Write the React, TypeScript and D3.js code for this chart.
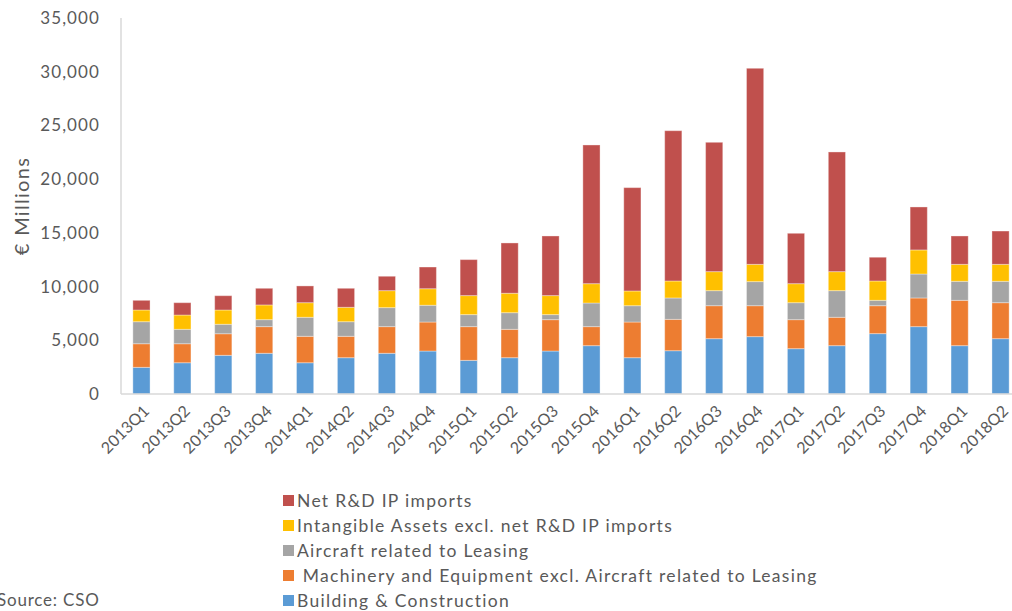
import React from "react";
import * as d3 from "d3";

const quarters = [
  "2013Q1","2013Q2","2013Q3","2013Q4","2014Q1","2014Q2","2014Q3","2014Q4",
  "2015Q1","2015Q2","2015Q3","2015Q4","2016Q1","2016Q2","2016Q3","2016Q4",
  "2017Q1","2017Q2","2017Q3","2017Q4","2018Q1","2018Q2",
];
const building = [2480,2910,3600,3790,2910,3380,3790,4000,3130,3380,4000,4500,3380,4030,5150,5340,4220,4500,5620,6270,4500,5150];
const machinery = [2200,1770,2010,2480,2460,1990,2480,2700,3140,2640,2920,1770,3320,2920,3070,2880,2700,2640,2600,2670,4220,3350];
const aircraft = [2050,1340,880,650,1770,1360,1770,1560,1120,1550,470,2200,1520,1990,1400,2240,1580,2480,500,2230,1770,1990];
const intangible = [1090,1330,1330,1370,1360,1340,1580,1540,1770,1810,1770,1800,1370,1580,1770,1610,1770,1770,1800,2240,1580,1580];
const netRD = [900,1150,1330,1550,1560,1770,1340,2020,3350,4680,5550,12910,9620,13990,12040,18250,4690,11140,2210,4000,2640,3100];
const yTicks = [0,5000,10000,15000,20000,25000,30000,35000];

const seriesKeys = ["building","machinery","aircraft","intangible","netRD"];
const seriesNames = [
  "Building & Construction",
  " Machinery and Equipment excl. Aircraft related to Leasing",
  "Aircraft related to Leasing",
  "Intangible Assets excl. net R&D IP imports",
  "Net R&D IP imports",
];
const colors = ["#5B9BD5","#ED7D31","#A5A5A5","#FFC000","#C0504D"];

export default function App() {
  const W = 1012, H = 611;
  const left = 121, right = 1021, top = 18, bottom = 394;
  const rows = quarters.map((q, i) => ({
    q,
    building: building[i],
    machinery: machinery[i],
    aircraft: aircraft[i],
    intangible: intangible[i],
    netRD: netRD[i],
  }));
  const stack = d3.stack<any>().keys(seriesKeys)(rows);
  const x = d3.scaleBand().domain(quarters).range([left, right]).paddingInner(0.58).paddingOuter(0.29);
  const y = d3.scaleLinear().domain([0, 35000]).range([bottom, top]);
  const fmt = d3.format(",");
  const font = "Lato, 'Open Sans', sans-serif";
  const txt = "#595959";
  const legendOrder = [4, 3, 2, 1, 0];

  return (
    <svg width={W} height={H} style={{ position: "absolute", left: 0, top: 0, background: "#fff" }} fontFamily={font}>
      {stack.map((s, si) => (
        <g key={si} fill={colors[si]}>
          {s.map((d, i) => (
            <rect
              key={i}
              x={x(quarters[i])}
              y={y(d[1])}
              width={x.bandwidth()}
              height={Math.max(0, y(d[0]) - y(d[1]))}
              stroke="rgba(255,255,255,0.35)"
              strokeWidth={1}
            />
          ))}
        </g>
      ))}
      <line x1={left} x2={left} y1={top} y2={bottom} stroke="#D9D9D9" strokeWidth={1.5} />
      <line x1={left} x2={right} y1={bottom} y2={bottom} stroke="#D9D9D9" strokeWidth={1.5} />
      {yTicks.map((t) => (
        <text key={t} x={100} y={y(t)} dy="0.35em" textAnchor="end" fontSize={17} fill={txt} letterSpacing={1.1}>
          {fmt(t)}
        </text>
      ))}
      <text transform={`translate(22,${(top + bottom) / 2}) rotate(-90)`} textAnchor="middle" fontSize={20} fill={txt} dy="0.35em" letterSpacing={1.3}>
        € Millions
      </text>
      {quarters.map((q) => {
        const cx = (x(q) as number) + x.bandwidth() / 2 + 5;
        return (
          <text key={q} transform={`translate(${cx},${bottom + 14}) rotate(-45)`} textAnchor="end" fontSize={16} fill={txt} dy="0.35em" letterSpacing={0.2}>
            {q}
          </text>
        );
      })}
      {legendOrder.map((si, k) => {
        const ly = 501 + k * 25;
        return (
          <g key={si}>
            <rect x={283} y={ly - 6} width={11} height={11} fill={colors[si]} />
            <text x={297} y={ly} dy="0.35em" fontSize={17.5} fill={txt} letterSpacing={1.3} style={{ whiteSpace: "pre" }}>
              {seriesNames[si]}
            </text>
          </g>
        );
      })}
      <text x={-3} y={600} dy="0.35em" fontSize={17} fill={txt} letterSpacing={0.8}>Source: CSO</text>
    </svg>
  );
}
